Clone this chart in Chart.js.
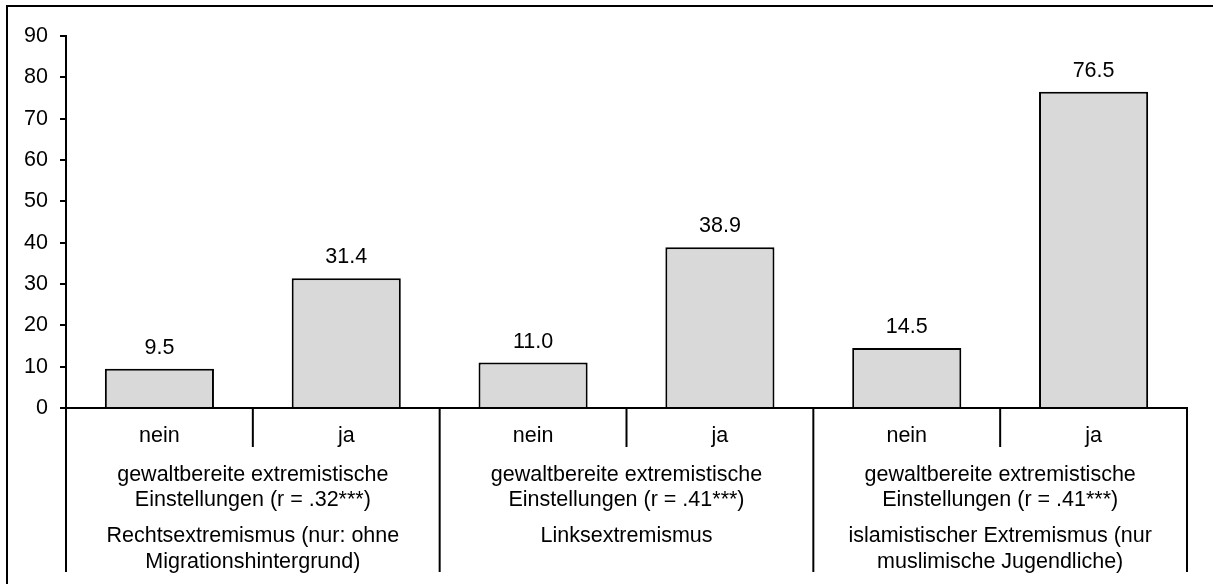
<!DOCTYPE html>
<html>
<head>
<meta charset="utf-8">
<script src="https://cdn.jsdelivr.net/npm/chart.js@4/dist/chart.umd.min.js"></script>
<style>
  html, body { margin: 0; padding: 0; background: #fff; }
  .wrap { position: relative; width: 1213px; height: 584px; }
</style>
</head>
<body>
<div class="wrap"><canvas id="c"></canvas></div>
<script>
// ===== data =====
const categories = ['nein', 'ja', 'nein', 'ja', 'nein', 'ja'];
const values = [9.5, 31.4, 11.0, 38.9, 14.5, 76.5];
const groupLabels = [
  ['gewaltbereite extremistische', 'Einstellungen (r = .32***)'],
  ['gewaltbereite extremistische', 'Einstellungen (r = .41***)'],
  ['gewaltbereite extremistische', 'Einstellungen (r = .41***)'],
];
const topicLabels = [
  ['Rechtsextremismus (nur: ohne', 'Migrationshintergrund)'],
  ['Linksextremismus'],
  ['islamistischer Extremismus (nur', 'muslimische Jugendliche)'],
];
const yMin = 0, yMax = 90, yStep = 10;

const FONT = '"Liberation Sans", Arial, sans-serif';
const FONT_SIZE = 21.5;

// frame + multi-level category labels + value labels
const labelsPlugin = {
  id: 'multiLabels',
  afterDraw(chart) {
    const { ctx, scales: { x }, chartArea } = chart;
    const meta = chart.getDatasetMeta(0);
    const catW = x.width / categories.length;
    const base = chartArea.bottom;

    ctx.save();
    // outer frame (only top and left visible in picture)
    ctx.strokeStyle = '#000';
    ctx.lineWidth = 2;
    ctx.beginPath();
    ctx.moveTo(7, chart.height + 2);
    ctx.lineTo(7, 6);
    ctx.lineTo(chart.width + 2, 6);
    ctx.stroke();

    ctx.font = `${FONT_SIZE}px ${FONT}`;
    ctx.fillStyle = '#000';
    ctx.textAlign = 'center';
    ctx.textBaseline = 'alphabetic';

    // value labels
    meta.data.forEach((bar, i) => {
      ctx.fillText(values[i].toFixed(1), bar.x, bar.y - 15);
    });

    // separators
    ctx.lineWidth = 2;
    for (let i = 0; i <= categories.length; i++) {
      const px = x.left + i * catW;
      const bottom = (i % 2 === 0) ? base + 164 : base + 39;
      ctx.beginPath();
      ctx.moveTo(px, base);
      ctx.lineTo(px, bottom);
      ctx.stroke();
    }

    // level 1
    categories.forEach((c, i) => {
      ctx.fillText(c, x.getPixelForTick(i), base + 34);
    });

    // level 2 and 3
    groupLabels.forEach((lines, g) => {
      const cx = (x.getPixelForTick(2 * g) + x.getPixelForTick(2 * g + 1)) / 2;
      lines.forEach((t, k) => ctx.fillText(t, cx, base + 73 + k * 25));
      topicLabels[g].forEach((t, k) => ctx.fillText(t, cx, base + 134 + k * 26));
    });
    ctx.restore();
  },
};

new Chart(document.getElementById('c').getContext('2d'), {
  type: 'bar',
  data: {
    labels: categories,
    datasets: [{
      data: values,
      backgroundColor: '#d9d9d9',
      borderColor: '#000',
      borderWidth: 2,
      borderSkipped: 'bottom',
      barPercentage: 0.584,
      categoryPercentage: 1.0,
    }],
  },
  options: {
    responsive: true,
    maintainAspectRatio: false,
    animation: false,
    layout: { padding: { top: 36, left: 8, right: 26, bottom: 0 } },
    scales: {
      x: {
        grid: { display: false },
        border: { display: true, color: '#000', width: 2 },
        ticks: { display: false },
        afterFit: (s) => { s.height = 176; },
      },
      y: {
        min: yMin,
        max: yMax,
        grid: { drawOnChartArea: false, drawTicks: true, tickLength: 6, color: '#000', lineWidth: 2 },
        border: { display: true, color: '#000', width: 2 },
        ticks: { stepSize: yStep, padding: 12, color: '#000', font: { family: FONT, size: FONT_SIZE } },
        afterFit: (s) => { s.width = 58; },
      },
    },
    plugins: {
      legend: { display: false },
      tooltip: { enabled: false },
    },
  },
  plugins: [labelsPlugin],
});
</script>
</body>
</html>
